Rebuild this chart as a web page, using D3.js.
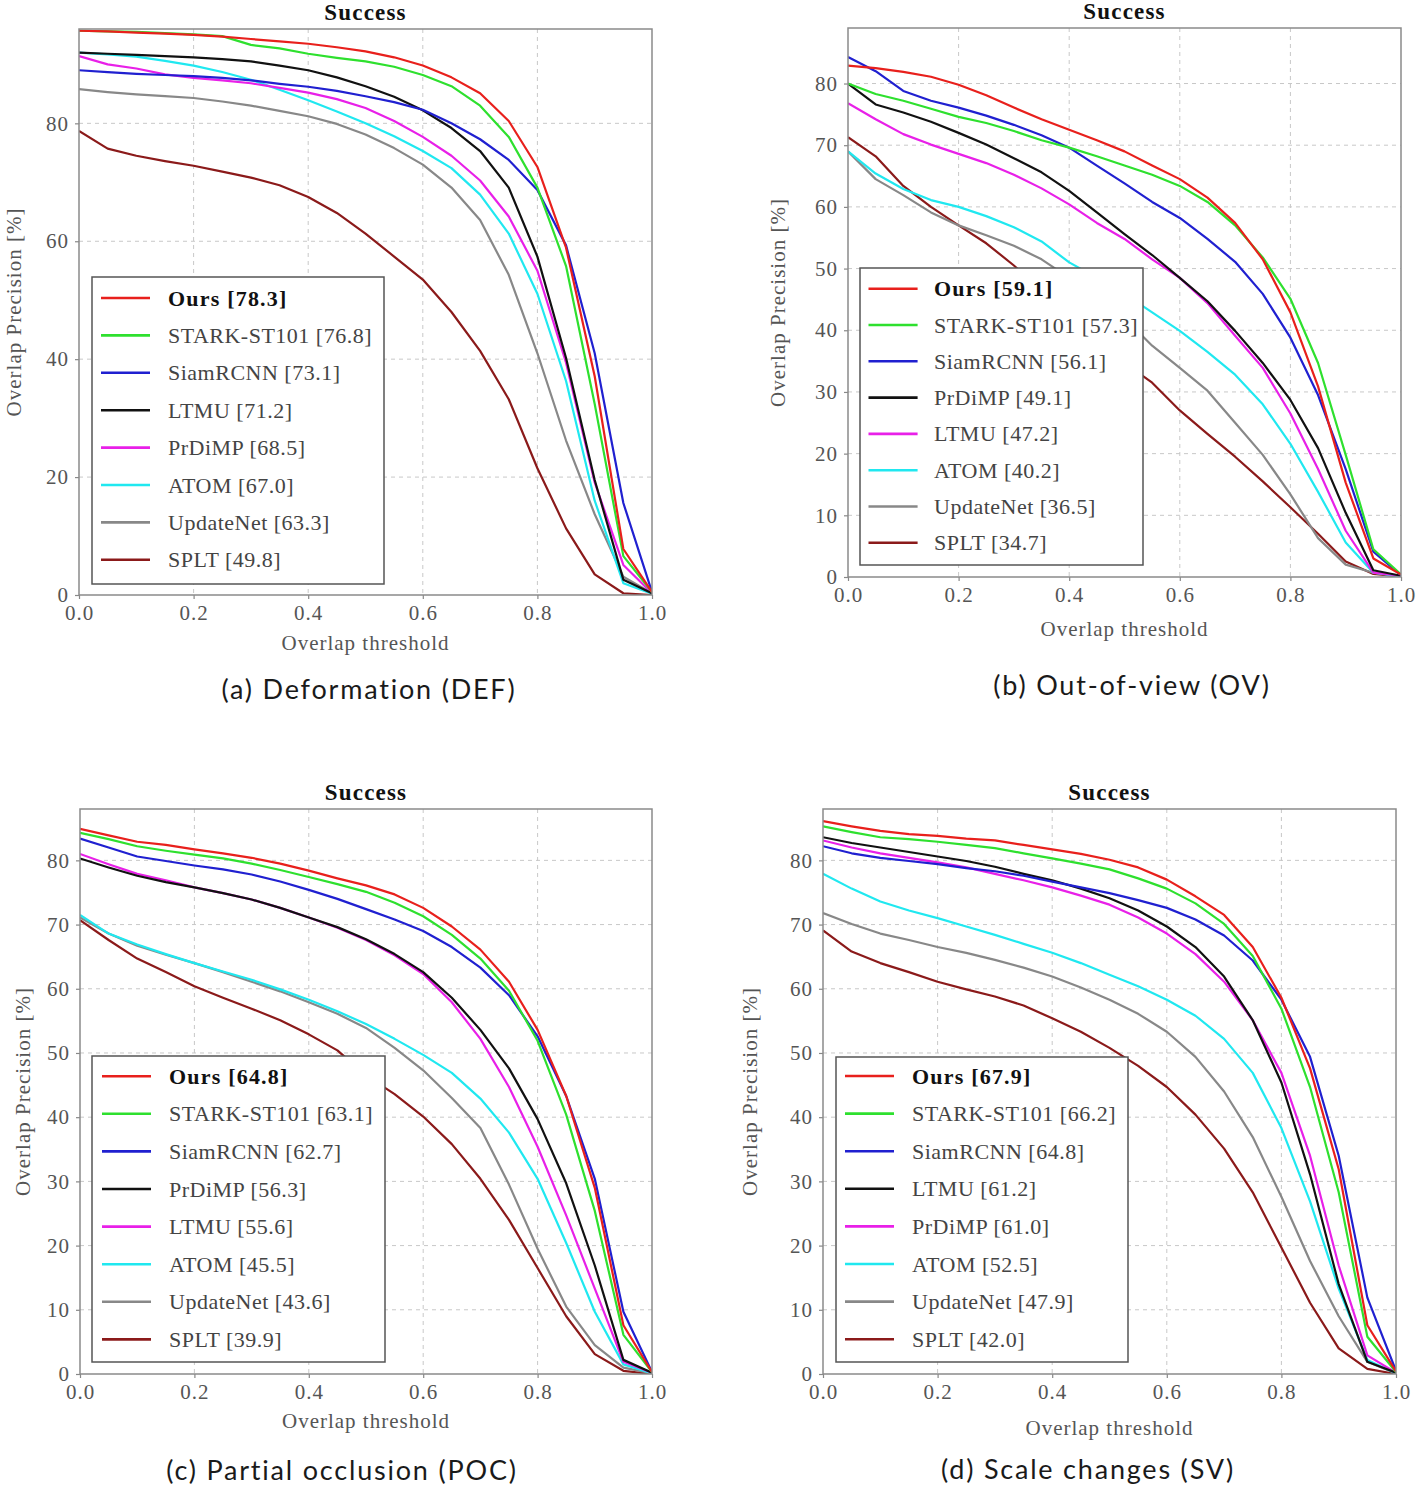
<!DOCTYPE html>
<html><head><meta charset="utf-8">
<script src="https://cdn.jsdelivr.net/npm/d3@7"></script>
<style>body{margin:0;background:#fff} svg{display:block}</style>
</head><body>
<svg id="chart" width="1418" height="1490"></svg>
<script>
// ---------------- data ----------------
const thresholds = [0,0.05,0.1,0.15,0.2,0.25,0.3,0.35,0.4,0.45,0.5,0.55,0.6,0.65,0.7,0.75,0.8,0.85,0.9,0.95,1.0];
const xTickValues = [0,0.2,0.4,0.6,0.8,1.0];
const trackerColors = ["#e8201c","#2ee02e","#2020d0","#111111","#e820e8","#20e8f0","#888888","#8b1a1a"];

const defNames = ["Ours","STARK-ST101","SiamRCNN","LTMU","PrDiMP","ATOM","UpdateNet","SPLT"];
const defScores = [78.3,76.8,73.1,71.2,68.5,67.0,63.3,49.8];
const defSeries = [
  [95.7,95.6,95.4,95.2,95.0,94.7,94.3,93.9,93.5,92.9,92.2,91.2,89.8,87.8,85.1,80.4,72.6,58.9,37.1,7.8,0.5],
  [95.7,95.6,95.5,95.3,95.1,94.8,93.3,92.7,91.8,91.1,90.5,89.6,88.2,86.3,83.0,77.7,69.1,55.8,32.4,6.6,0.5],
  [89.0,88.7,88.4,88.2,88.0,87.7,87.3,86.7,86.2,85.5,84.6,83.6,82.3,80.0,77.3,73.8,68.7,59.3,41.0,15.6,0.5],
  [92.0,91.8,91.6,91.4,91.2,90.9,90.5,89.8,89.0,87.8,86.3,84.5,82.2,79.2,75.3,69.1,57.4,40.2,19.5,2.6,0.3],
  [91.4,90.0,89.3,88.3,87.7,87.3,86.8,86.0,85.2,84.1,82.6,80.4,77.7,74.5,70.3,64.2,55.0,39.4,19.1,5.1,0.3],
  [92.0,91.7,91.3,90.6,89.8,88.7,87.4,85.7,83.9,82.0,80.0,77.8,75.3,72.4,67.9,61.3,51.1,36.3,16.0,2.0,0.2],
  [85.8,85.3,84.9,84.6,84.3,83.7,83.0,82.1,81.2,79.9,78.1,75.8,73.0,69.1,63.6,54.3,41.0,26.2,13.7,3.1,0.3],
  [78.7,75.7,74.5,73.6,72.8,71.8,70.8,69.5,67.5,64.8,61.3,57.4,53.5,48.0,41.4,33.2,21.5,11.3,3.5,0.3,0.0]
];

const ovNames = ["Ours","STARK-ST101","SiamRCNN","PrDiMP","LTMU","ATOM","UpdateNet","SPLT"];
const ovScores = [59.1,57.3,56.1,49.1,47.2,40.2,36.5,34.7];
const ovSeries = [
  [82.9,82.5,81.9,81.1,79.8,78.1,76.1,74.2,72.5,70.8,69.0,66.7,64.5,61.5,57.4,51.5,42.9,30.9,15.3,3.0,0.4],
  [80.0,78.3,77.2,75.9,74.6,73.6,72.3,70.8,69.6,68.2,66.7,65.2,63.4,60.8,57.0,51.8,45.1,34.7,19.8,4.5,0.4],
  [84.3,82.0,78.8,77.2,76.1,74.8,73.3,71.6,69.6,66.7,63.8,60.8,58.2,54.8,51.1,45.9,38.8,29.5,17.5,4.1,0.3],
  [80.0,76.6,75.3,73.8,72.0,70.1,67.9,65.6,62.6,59.1,55.6,52.2,48.5,44.7,39.9,34.7,28.7,20.9,10.4,1.1,0.2],
  [76.8,74.2,71.8,70.1,68.6,67.1,65.2,63.0,60.4,57.4,54.8,51.5,48.5,44.4,39.1,33.9,26.5,17.5,7.5,0.7,0.2],
  [69.0,65.4,62.9,61.1,60.0,58.5,56.7,54.4,51.0,48.5,45.9,42.9,39.9,36.5,32.8,28.0,21.6,13.8,5.6,0.7,0.1],
  [69.0,64.5,61.9,59.1,57.0,55.4,53.7,51.5,48.5,45.5,42.0,37.5,33.9,30.2,25.0,19.8,13.4,6.3,2.0,0.7,0.1],
  [71.3,68.2,63.4,60.0,57.0,54.1,50.5,46.5,42.5,38.5,34.7,31.5,27.0,23.2,19.5,15.5,11.3,7.0,2.5,0.5,0.1]
];

const pocNames = ["Ours","STARK-ST101","SiamRCNN","PrDiMP","LTMU","ATOM","UpdateNet","SPLT"];
const pocScores = [64.8,63.1,62.7,56.3,55.6,45.5,43.6,39.9];
const pocSeries = [
  [84.9,83.9,82.9,82.4,81.7,81.1,80.4,79.5,78.4,77.2,76.1,74.7,72.6,69.7,66.1,61.1,53.6,43.3,29.0,7.6,0.3],
  [84.3,83.3,82.2,81.5,80.9,80.3,79.5,78.5,77.4,76.3,75.1,73.4,71.3,68.4,64.7,59.7,51.9,40.4,25.4,6.1,0.3],
  [83.4,82.0,80.6,79.9,79.2,78.6,77.8,76.7,75.4,74.0,72.4,70.8,69.0,66.5,63.3,59.0,52.6,43.3,30.4,9.7,0.3],
  [80.3,78.9,77.6,76.6,75.8,74.9,73.9,72.6,71.1,69.6,67.7,65.4,62.6,58.6,53.6,47.6,39.7,29.7,16.9,2.2,0.2],
  [81.0,79.4,77.9,76.9,75.8,74.9,73.9,72.6,71.1,69.5,67.6,65.2,62.3,57.9,52.2,44.7,35.4,24.7,13.3,1.9,0.2],
  [71.5,68.6,66.9,65.4,64.0,62.7,61.4,59.9,58.3,56.5,54.5,52.2,49.7,46.9,42.9,37.6,30.4,20.4,9.7,1.5,0.1],
  [71.1,68.6,66.7,65.3,64.0,62.6,61.1,59.6,57.9,56.1,53.9,50.8,47.3,43.0,38.3,29.5,19.5,10.5,4.5,1.0,0.1],
  [70.7,67.6,64.7,62.6,60.4,58.6,56.9,55.1,52.9,50.4,46.5,43.6,40.1,35.8,30.4,24.0,16.5,9.0,3.1,0.5,0.0]
];

const svNames = ["Ours","STARK-ST101","SiamRCNN","LTMU","PrDiMP","ATOM","UpdateNet","SPLT"];
const svScores = [67.9,66.2,64.8,61.2,61.0,52.5,47.9,42.0];
const svSeries = [
  [86.1,85.3,84.6,84.1,83.8,83.4,83.1,82.4,81.7,81.0,80.1,78.9,77.0,74.4,71.5,66.5,58.6,47.6,31.9,7.6,0.4],
  [85.3,84.4,83.6,83.3,82.9,82.4,81.9,81.1,80.3,79.5,78.6,77.2,75.6,73.3,70.1,65.1,56.9,44.7,28.3,5.8,0.3],
  [82.2,81.1,80.4,79.9,79.4,78.8,78.3,77.6,76.7,75.8,74.9,73.8,72.6,70.8,68.3,64.4,58.3,49.4,34.0,11.9,0.5],
  [83.6,82.7,82.0,81.3,80.6,79.9,79.0,77.9,76.9,75.6,74.1,72.2,69.7,66.5,61.9,55.1,45.4,31.1,14.0,1.9,0.2],
  [83.1,82.0,81.1,80.4,79.7,78.9,77.9,76.9,75.8,74.5,73.1,71.1,68.6,65.4,61.1,55.1,46.9,34.0,16.9,2.9,0.2],
  [77.9,75.6,73.6,72.2,71.0,69.7,68.4,67.0,65.6,64.0,62.2,60.4,58.3,55.8,52.2,46.9,38.3,26.9,13.3,2.2,0.1],
  [71.8,70.1,68.6,67.6,66.5,65.6,64.5,63.3,61.9,60.2,58.3,56.1,53.3,49.4,44.0,36.9,27.6,17.6,9.0,1.9,0.1],
  [69.1,65.8,64.0,62.6,61.1,59.9,58.8,57.4,55.4,53.3,50.8,48.0,44.7,40.4,35.1,28.3,19.7,11.1,4.0,0.8,0.0]
];

const captions = ["(a) Deformation (DEF)","(b) Out-of-view (OV)","(c) Partial occlusion (POC)","(d) Scale changes (SV)"];
const yMaxes = [96, 89, 88, 88];
const yTickSets = [[0,20,40,60,80],[0,10,20,30,40,50,60,70,80],[0,10,20,30,40,50,60,70,80],[0,10,20,30,40,50,60,70,80]];

// ---------------- layout ----------------
const layouts = [
  {l:79, r:652, t:29, b:595, lg:{x:92,y:277,w:292,h:307,row0:298,step:37.4,lx1:101,lx2:150,tx:168}, xlabY:650, ylabX:14, cap:[369,699]},
  {l:848, r:1401, t:28, b:577, lg:{x:860,y:268,w:283,h:297,row0:288.7,step:36.3,lx1:868.5,lx2:917.6,tx:934}, xlabY:636, ylabX:778, cap:[1132,695]},
  {l:80, r:652, t:809, b:1374, lg:{x:92,y:1056,w:293,h:306,row0:1076.2,step:37.6,lx1:102,lx2:151,tx:169}, xlabY:1428, ylabX:23, cap:[342,1480]},
  {l:823, r:1396, t:809, b:1374, lg:{x:836,y:1057,w:292,h:305,row0:1076,step:37.6,lx1:845,lx2:894,tx:912}, xlabY:1435, ylabX:750, cap:[1088,1479]}
];

const panelData = [
  {names:defNames, scores:defScores, series:defSeries},
  {names:ovNames, scores:ovScores, series:ovSeries},
  {names:pocNames, scores:pocScores, series:pocSeries},
  {names:svNames, scores:svScores, series:svSeries}
];

const SERIF = "'Liberation Serif','Times New Roman',serif";
const svg = d3.select("#chart");
const defs = svg.append("defs");

panelData.forEach((pd, i) => {
  const L = layouts[i];
  const g = svg.append("g");
  const x = d3.scaleLinear().domain([0,1]).range([L.l, L.r]);
  const y = d3.scaleLinear().domain([0, yMaxes[i]]).range([L.b, L.t]);

  // grid
  g.append("g").selectAll("line").data(xTickValues.filter(v => v > 0 && v < 1)).join("line")
    .attr("x1", d => x(d)).attr("x2", d => x(d)).attr("y1", L.t).attr("y2", L.b)
    .attr("stroke", "#c8c8c8").attr("stroke-width", 1).attr("stroke-dasharray", "4,4");
  g.append("g").selectAll("line").data(yTickSets[i].filter(v => v > 0)).join("line")
    .attr("y1", d => y(d)).attr("y2", d => y(d)).attr("x1", L.l).attr("x2", L.r)
    .attr("stroke", "#c8c8c8").attr("stroke-width", 1).attr("stroke-dasharray", "4,4");

  // clip
  const cid = "clip" + i;
  defs.append("clipPath").attr("id", cid).append("rect")
    .attr("x", L.l).attr("y", L.t).attr("width", L.r - L.l).attr("height", L.b - L.t);

  const line = d3.line().x((d, j) => x(thresholds[j])).y(d => y(d));
  const items = pd.series.map((s, k) => ({s, k})).reverse();
  g.append("g").attr("clip-path", `url(#${cid})`).selectAll("path").data(items).join("path")
    .attr("d", d => line(d.s)).attr("fill", "none")
    .attr("stroke", d => trackerColors[d.k]).attr("stroke-width", 2.2)
    .attr("stroke-linejoin", "round");

  // axes
  const xAxis = d3.axisBottom(x).tickValues(xTickValues).tickFormat(d3.format(".1f")).tickSize(4).tickPadding(6);
  const yAxis = d3.axisLeft(y).tickValues(yTickSets[i]).tickFormat(d3.format("d")).tickSize(4).tickPadding(6);
  const gx = g.append("g").attr("transform", `translate(0,${L.b})`).call(xAxis);
  const gy = g.append("g").attr("transform", `translate(${L.l},0)`).call(yAxis);
  [gx, gy].forEach(ax => {
    ax.select(".domain").remove();
    ax.selectAll(".tick line").attr("stroke", "#888").attr("stroke-width", 1.2);
    ax.selectAll(".tick text").attr("fill", "#555").style("font-family", SERIF)
      .style("font-size", "21px").style("letter-spacing", "1px");
  });

  // frame
  g.append("rect").attr("x", L.l).attr("y", L.t).attr("width", L.r - L.l).attr("height", L.b - L.t)
    .attr("fill", "none").attr("stroke", "#8a8a8a").attr("stroke-width", 1.5);

  const cx = (L.l + L.r) / 2, cy = (L.t + L.b) / 2;
  // title
  g.append("text").attr("x", cx).attr("y", L.t - 9).attr("text-anchor", "middle")
    .style("font-family", SERIF).style("font-size", "23px").style("font-weight", "bold")
    .style("letter-spacing", "1.2px").attr("fill", "#111").text("Success");
  // x label
  g.append("text").attr("x", cx).attr("y", L.xlabY).attr("text-anchor", "middle")
    .style("font-family", SERIF).style("font-size", "21px").style("letter-spacing", "1px")
    .attr("fill", "#555").text("Overlap threshold");
  // y label
  g.append("text").attr("transform", `translate(${L.ylabX},${cy}) rotate(-90)`)
    .attr("text-anchor", "middle").attr("dominant-baseline", "central")
    .style("font-family", SERIF).style("font-size", "21px").style("letter-spacing", "1px")
    .attr("fill", "#555").text("Overlap Precision [%]");
  // caption
  g.append("text").attr("x", L.cap[0]).attr("y", L.cap[1]).attr("text-anchor", "middle")
    .style("font-family", "Lato, 'Open Sans', sans-serif").style("font-size", "27px")
    .style("letter-spacing", "1.8px").attr("fill", "#1a1a1a").text(captions[i]);

  // legend
  const lg = L.lg;
  const leg = g.append("g");
  leg.append("rect").attr("x", lg.x).attr("y", lg.y).attr("width", lg.w).attr("height", lg.h)
    .attr("fill", "#fff").attr("stroke", "#555").attr("stroke-width", 1.5);
  const rows = leg.selectAll("g.row").data(pd.names.map((n, k) => ({n, k, s: pd.scores[k]}))).join("g").attr("class", "row");
  rows.append("line").attr("x1", lg.lx1).attr("x2", lg.lx2)
    .attr("y1", d => lg.row0 + d.k * lg.step).attr("y2", d => lg.row0 + d.k * lg.step)
    .attr("stroke", d => trackerColors[d.k]).attr("stroke-width", 2.6);
  rows.append("text").attr("x", lg.tx).attr("y", d => lg.row0 + d.k * lg.step)
    .attr("dominant-baseline", "central")
    .style("font-family", SERIF).style("font-size", "22px")
    .style("letter-spacing", d => d.k === 0 ? "1.2px" : "0.5px")
    .style("font-weight", d => d.k === 0 ? "bold" : "normal")
    .attr("fill", d => d.k === 0 ? "#111" : "#444")
    .text(d => `${d.n} [${d.s.toFixed(1)}]`);
});
</script>
</body></html>
